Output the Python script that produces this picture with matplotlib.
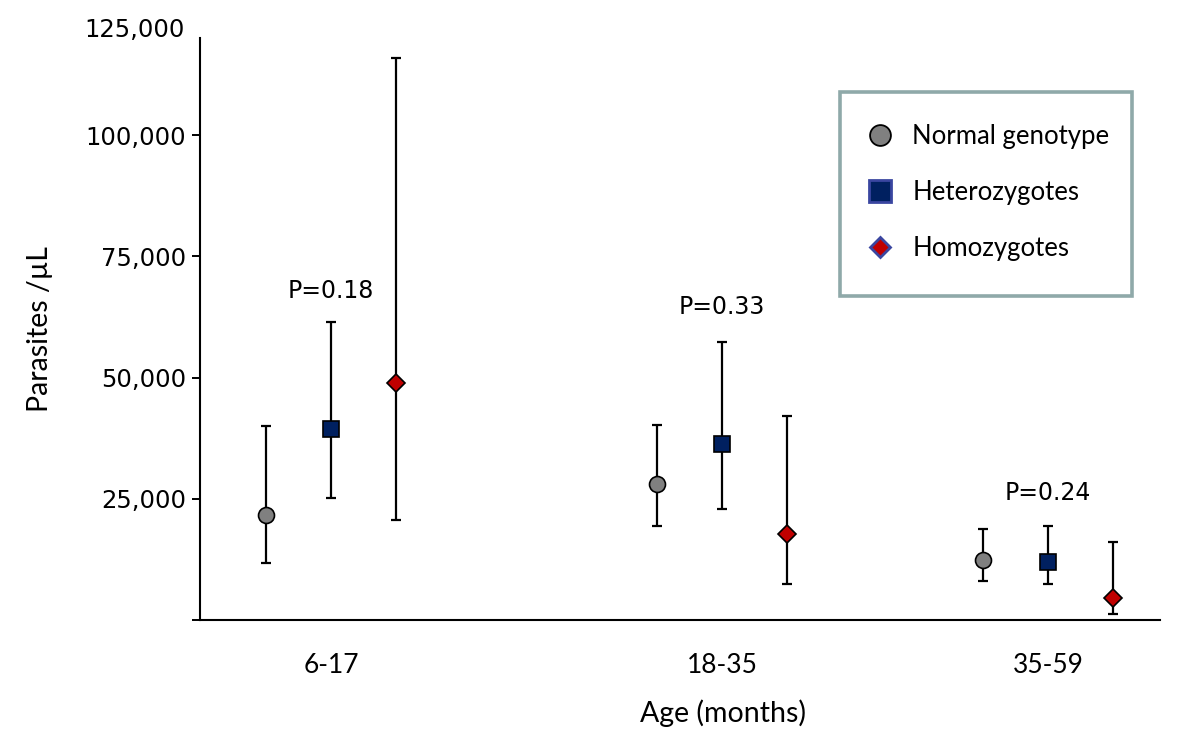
import numpy as np
import matplotlib
matplotlib.use("Agg")
import matplotlib.pyplot as plt
from matplotlib.lines import Line2D
from matplotlib.patches import Rectangle

# Data
age_groups = ["6-17", "18-35", "35-59"]
group_pos = [1.0, 2.0, 2.834]      # category centres (uneven in the original)
offset = 0.166                     # horizontal shift of each genotype within a group

genotypes = ["Normal genotype", "Heterozygotes", "Homozygotes"]
means = {
    "Normal genotype": [21700, 27950, 12330],
    "Heterozygotes":   [39360, 36360, 11980],
    "Homozygotes":     [48840, 17700, 4610],
}
upper = {
    "Normal genotype": [40080, 40220, 18660],
    "Heterozygotes":   [61360, 57290, 19360],
    "Homozygotes":     [115800, 42080, 16180],
}
lower = {
    "Normal genotype": [11780, 19280, 8060],
    "Heterozygotes":   [25200, 22930, 7370],
    "Homozygotes":     [20660, 7440, 1240],
}
p_labels = ["P=0.18", "P=0.33", "P=0.24"]
p_heights = [67770, 64460, 26240]

# Styles
styles = {
    "Normal genotype": dict(marker="o", ms=11.5, leg_ms=15, mfc="#808080", mec="black",
                            leg_mec="black", leg_mew=1.3),
    "Heterozygotes":   dict(marker="s", ms=11.7, leg_ms=16, mfc="#002060", mec="black",
                            leg_mec="#3a46a0", leg_mew=2.0),
    "Homozygotes":     dict(marker="D", ms=9, leg_ms=10, mfc="#C00000", mec="black",
                            leg_mec="#3a46a0", leg_mew=2.0),
}
label_font = "Lato"

fig = plt.figure(figsize=(12, 7.39), dpi=100)
ax = fig.add_axes([200 / 1200, 1 - 620 / 739, 960 / 1200, 582 / 739])

for i, g in enumerate(genotypes):
    x = np.array(group_pos) + (i - 1) * offset
    m = np.array(means[g])
    yerr = [m - np.array(lower[g]), np.array(upper[g]) - m]
    st = styles[g]
    ax.errorbar(x, m, yerr=yerr, fmt="none", ecolor="black", elinewidth=1.6,
                capsize=3.5, capthick=1.6, zorder=2)
    ax.plot(x, m, linestyle="none", marker=st["marker"], ms=st["ms"],
            mfc=st["mfc"], mec=st["mec"], mew=1.2, zorder=3)

for xp, txt, h in zip(group_pos, p_labels, p_heights):
    ax.text(xp, h, txt, ha="center", va="center", fontsize=17, family="DejaVu Sans")

ax.set_xlim(0.665, 3.12)
ax.set_ylim(0, 120000)
ax.set_xticks(group_pos)
ax.set_xticklabels(age_groups, fontsize=19, family=label_font)
ax.tick_params(axis="x", length=0, pad=24)
ax.set_yticks([0, 25000, 50000, 75000, 100000])
ax.set_yticklabels(["", "25,000", "50,000", "75,000", "100,000"], fontsize=17.5)
ax.tick_params(axis="y", direction="out", length=6, width=1.4, pad=4)
# top label sits just above the end of the axis line
ax.text(-0.0156, 1.014, "125,000", transform=ax.transAxes, ha="right", va="center",
        fontsize=17.5)

for s in ["top", "right"]:
    ax.spines[s].set_visible(False)
for s in ["left", "bottom"]:
    ax.spines[s].set_linewidth(1.5)

ax.set_ylabel("Parasites /µL", fontsize=20.5, family=label_font)
ax.yaxis.set_label_coords(-0.153, 0.5)
ax.set_xlabel("Age (months)", fontsize=20.5, family=label_font)
ax.xaxis.set_label_coords(0.545, -0.137)

# legend box drawn separately so it matches the original size
frame = Rectangle((0.667, 0.557), 0.304, 0.35, transform=ax.transAxes,
                  facecolor="white", edgecolor="#8FA9A9", linewidth=2.6,
                  clip_on=False, zorder=4)
ax.add_patch(frame)

handles = [Line2D([], [], linestyle="none", marker=styles[g]["marker"],
                  ms=styles[g]["leg_ms"], mfc=styles[g]["mfc"],
                  mec=styles[g]["leg_mec"], mew=styles[g]["leg_mew"])
           for g in genotypes]
leg = ax.legend(handles, genotypes, loc="upper left",
                bbox_to_anchor=(0.695, 0.852), frameon=False,
                prop={"family": label_font, "size": 18.5},
                borderpad=0, labelspacing=1.2, handlelength=1.0,
                handletextpad=0.75, borderaxespad=0)
leg.set_zorder(5)

fig.savefig("out.png", dpi=100)
